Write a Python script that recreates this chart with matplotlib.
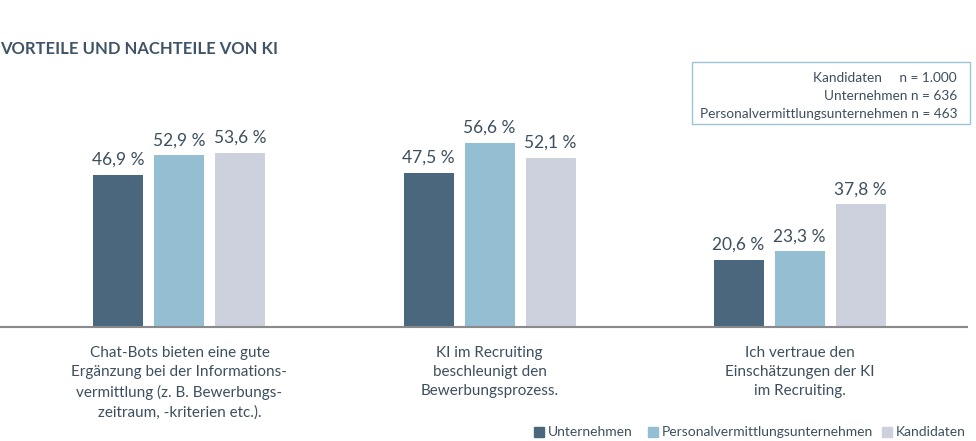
import numpy as np
import matplotlib.pyplot as plt
from matplotlib.patches import Rectangle

plt.rcParams['font.family'] = ['Lato', 'DejaVu Sans']

# Daten
kategorien = ["Chat-Bots bieten eine gute\nErgänzung bei der Informations-\nvermittlung (z. B. Bewerbungs-\nzeitraum, -kriterien etc.).",
              "KI im Recruiting\nbeschleunigt den\nBewerbungsprozess.",
              "Ich vertraue den\nEinschätzungen der KI\nim Recruiting."]
serien = ["Unternehmen", "Personalvermittlungsunternehmen", "Kandidaten"]
unternehmen = [46.9, 47.5, 20.6]
personalvermittlung = [52.9, 56.6, 23.3]
kandidaten = [53.6, 52.1, 37.8]
stichprobe = ["Kandidaten     n = 1.000", "Unternehmen n = 636", "Personalvermittlungsunternehmen n = 463"]

farben = ["#4b677e", "#94bed1", "#cdd1dd"]
textfarbe = "#3d4f5e"

fig = plt.figure(figsize=(9.76, 4.41), dpi=100)
W, H = 976, 441

# Achse: Basislinie bei y=327 px, Breite bis 967 px
ax = fig.add_axes([0, (H - 327) / H, 967 / W, 297 / H])
x = np.arange(len(kategorien))
breite = 50 / 310
schritt = 61 / 310

werte = [unternehmen, personalvermittlung, kandidaten]
for i, (w, f) in enumerate(zip(werte, farben)):
    pos = x + (i - 1) * schritt
    ax.bar(pos, w, width=breite, color=f, zorder=2)
    for p, v in zip(pos, w):
        ax.annotate(f"{v:.1f} %".replace(".", ","), (p, v), xytext=(0, 5),
                    textcoords="offset points", ha="center", va="bottom",
                    fontsize=12.5, color=textfarbe)

ax.set_xlim(-179.5 / 310, (967 - 179.5) / 310)
ax.set_ylim(0, 297 / 3.25)
for s in ["top", "right", "left"]:
    ax.spines[s].set_visible(False)
ax.spines["bottom"].set_color("#8a8a8a")
ax.spines["bottom"].set_linewidth(1.5)
ax.set_yticks([])
ax.set_xticks(x)
ax.set_xticklabels(kategorien, fontsize=11, color=textfarbe, linespacing=1.45)
ax.tick_params(axis="x", length=0, pad=14)

# Titel
fig.text(0, 1 - 49 / H, "VORTEILE UND NACHTEILE VON KI", fontsize=12,
         fontweight="bold", color="#3f5466", va="center", ha="left")

# Kasten mit Stichprobe
fig.patches.append(Rectangle((692 / W, 1 - 124 / H), (970 - 692) / W, 62 / H,
                             transform=fig.transFigure, fill=False,
                             edgecolor="#9cc4d4", linewidth=1))
for k, t in enumerate(stichprobe):
    fig.text(957 / W, 1 - (78 + 18 * k) / H, t, fontsize=9.8, color=textfarbe,
             ha="right", va="center")

# Legende
leg_x = [534, 648, 882]
for lx, name, f in zip(leg_x, serien, farben):
    fig.patches.append(Rectangle((lx / W, 1 - 437 / H), 10 / W, 10 / H,
                                 transform=fig.transFigure, color=f))
    fig.text((lx + 14) / W, 1 - 432 / H, name, fontsize=10, color=textfarbe,
             ha="left", va="center")

fig.savefig("out.png", dpi=100)
